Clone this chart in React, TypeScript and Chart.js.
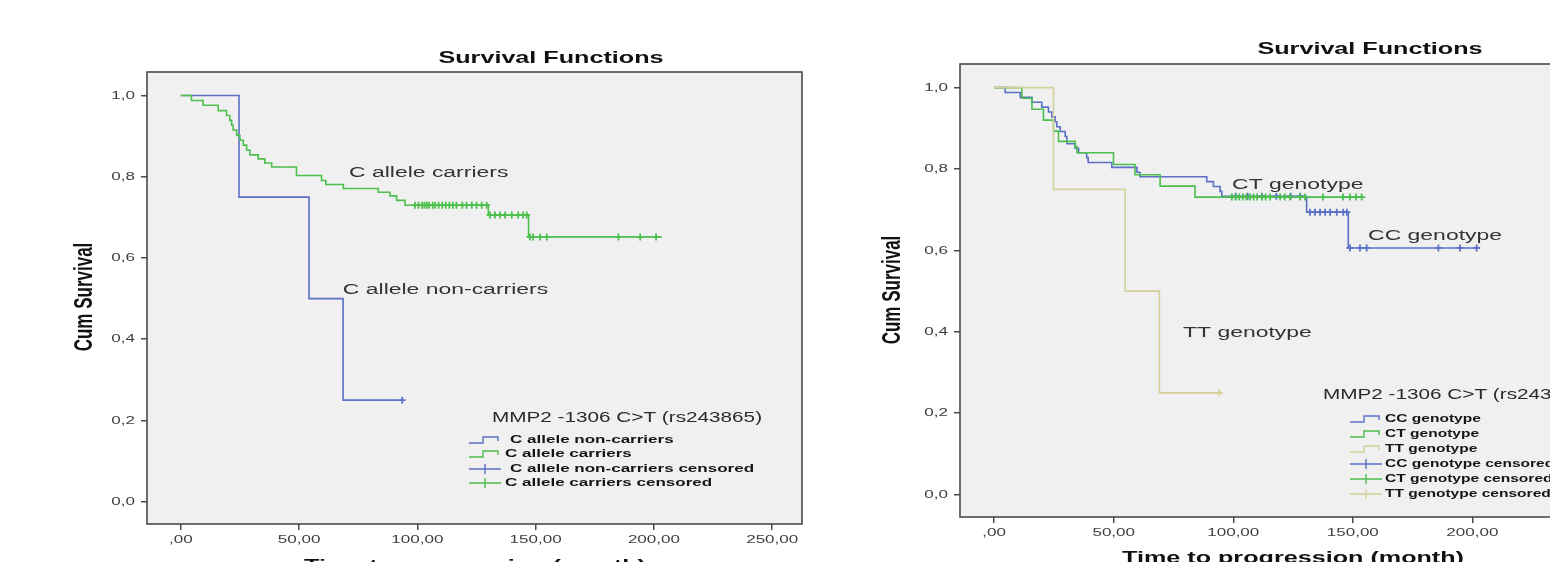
import React, { useEffect, useRef } from "react";
import { Chart, registerables } from "chart.js";
Chart.register(...registerables);

// ---------- shared axes ----------
const timeTicks = [0, 50, 100, 150, 200, 250];
const timeTickLabels = [",00", "50,00", "100,00", "150,00", "200,00", "250,00"];
const survTicks = [0, 0.2, 0.4, 0.6, 0.8, 1.0];
const survTickLabels = ["0,0", "0,2", "0,4", "0,6", "0,8", "1,0"];

// ---------- left panel: carriers vs non-carriers ----------
const nonCarrierTimes = [0, 24.6, 54.2, 68.6, 93.6];
const nonCarrierSurv = [1, 0.75, 0.5, 0.25, 0.25];
const nonCarrierCensored = [93.6];

const carrierTimes = [0, 4.5, 9.4, 15.8, 19.3, 20.7, 21.5, 22.1, 23.6, 25.0, 26.4, 27.8, 29.2, 32.7, 35.5, 38.4, 48.9, 59.5, 61.3, 68.7, 83.5, 88.4, 91.2, 94.8, 130.0, 147.0, 203.3];
const carrierSurv = [1, 0.988, 0.976, 0.963, 0.951, 0.939, 0.927, 0.915, 0.902, 0.89, 0.878, 0.866, 0.854, 0.844, 0.834, 0.824, 0.803, 0.791, 0.781, 0.771, 0.762, 0.753, 0.742, 0.73, 0.706, 0.652, 0.652];
const carrierCensored = [99, 100.5, 102, 103, 104, 105, 106.5, 107.5, 109, 110.5, 112, 113.5, 115, 116.5, 119, 120.8, 123, 125, 127.2, 129.3, 130.7, 132.8, 134.9, 137.1, 139.9, 142.6, 144.7, 146.2, 147.6, 148.9, 151.9, 154.7, 185, 194.2, 200.9];

// ---------- right panel: genotypes ----------
const ccTimes = [0, 4.6, 10.9, 15.8, 19.9, 22.7, 24.1, 25.5, 26.2, 27.6, 29.7, 30.4, 33.9, 35.3, 38.7, 39.3, 49.2, 59.7, 61.0, 88.9, 91.7, 94.5, 95.2, 130.7, 148.1, 203.2];
const ccSurv = [1, 0.988, 0.976, 0.964, 0.952, 0.94, 0.928, 0.916, 0.904, 0.892, 0.88, 0.862, 0.851, 0.84, 0.828, 0.816, 0.804, 0.792, 0.781, 0.769, 0.757, 0.745, 0.733, 0.694, 0.606, 0.606];
const ccCensored = [101, 106, 112, 118, 124, 128, 132.1, 134.2, 136.3, 138.4, 140.5, 143.3, 146, 147.5, 148.8, 153, 155.8, 185.8, 194.8, 201.8];

const ctTimes = [0, 11.6, 15.8, 20.6, 24.8, 26.9, 33.9, 34.6, 49.9, 58.9, 69.4, 84.0, 154.4];
const ctSurv = [1, 0.974, 0.947, 0.92, 0.893, 0.868, 0.855, 0.84, 0.811, 0.786, 0.758, 0.731, 0.731];
const ctCensored = [99.4, 101, 102.5, 104, 105.5, 107, 108.5, 110, 112, 113.5, 115.4, 119.6, 121.5, 123.7, 127.9, 130, 137.5, 145.9, 148.8, 151.3, 153.7];

const ttTimes = [0, 24.8, 54.8, 69.1, 94.2];
const ttSurv = [1, 0.75, 0.5, 0.25, 0.25];
const ttCensored = [94.2];

// ---------- style ----------
const BLUE = "#5b70c6";
const GREEN = "#4cbf4c";
const TAN = "#d4d09a";
const FONT = "'Liberation Sans', Arial, sans-serif";
const SX = 1.48; // source image text is horizontally stretched

function steps(times: number[], surv: number[]) {
  return times.map((t, i) => ({ x: t, y: surv[i] }));
}
function survAt(times: number[], surv: number[], t: number) {
  let v = surv[0];
  for (let i = 0; i < times.length; i++) if (times[i] <= t) v = surv[i];
  return v;
}
function censorPts(times: number[], surv: number[], cens: number[]) {
  return cens.map((t) => ({ x: t, y: survAt(times, surv, t) }));
}

function sText(ctx: CanvasRenderingContext2D, text: string, x: number, y: number, font: string, color: string, align = "left", baseline: CanvasTextBaseline = "middle") {
  ctx.save();
  ctx.font = font;
  ctx.fillStyle = color;
  ctx.textBaseline = baseline;
  ctx.textAlign = "left";
  const w = ctx.measureText(text).width * SX;
  let x0 = x;
  if (align === "center") x0 = x - w / 2;
  else if (align === "right") x0 = x - w;
  ctx.translate(x0, y);
  ctx.scale(SX, 1);
  ctx.fillText(text, 0, 0);
  ctx.restore();
}

function vText(ctx: CanvasRenderingContext2D, text: string, x: number, y: number, font: string, color: string) {
  ctx.save();
  ctx.font = font;
  ctx.fillStyle = color;
  ctx.textBaseline = "middle";
  ctx.textAlign = "center";
  ctx.translate(x, y);
  ctx.scale(SX, 1);
  ctx.rotate(-Math.PI / 2);
  ctx.fillText(text, 0, 0);
  ctx.restore();
}

function stepGlyph(ctx: CanvasRenderingContext2D, x: number, y: number, color: string) {
  ctx.save();
  ctx.strokeStyle = color;
  ctx.lineWidth = 1.4;
  ctx.beginPath();
  ctx.moveTo(x, y + 3);
  ctx.lineTo(x + 14, y + 3);
  ctx.lineTo(x + 14, y - 3);
  ctx.lineTo(x + 29, y - 3);
  ctx.lineTo(x + 29, y + 1);
  ctx.stroke();
  ctx.restore();
}
function crossGlyph(ctx: CanvasRenderingContext2D, x: number, y: number, color: string) {
  ctx.save();
  ctx.strokeStyle = color;
  ctx.lineWidth = 1.4;
  ctx.beginPath();
  ctx.moveTo(x, y);
  ctx.lineTo(x + 32, y);
  ctx.moveTo(x + 16, y - 5);
  ctx.lineTo(x + 16, y + 5);
  ctx.stroke();
  ctx.restore();
}

function Panel({ cfg }: { cfg: any }) {
  const ref = useRef<HTMLCanvasElement | null>(null);
  useEffect(() => {
    if (!ref.current) return;
    const decor = {
      id: "spssDecor",
      beforeDatasetsDraw(chart: any) {
        const { ctx, chartArea: a } = chart;
        ctx.save();
        ctx.fillStyle = "#f0f0f0";
        ctx.fillRect(a.left, a.top, a.right - a.left, a.bottom - a.top);
        ctx.restore();
      },
      afterDraw(chart: any) {
        const { ctx, chartArea: a } = chart;
        const xs = chart.scales.x;
        const ys = chart.scales.y;
        ctx.save();
        ctx.strokeStyle = "#4a4a4a";
        ctx.lineWidth = 1.6;
        ctx.strokeRect(a.left, a.top, a.right - a.left, a.bottom - a.top);
        ctx.restore();
        const tickFont = `11.5px ${FONT}`;
        survTicks.forEach((v, i) => sText(ctx, survTickLabels[i], a.left - 12, ys.getPixelForValue(v), tickFont, "#404040", "right"));
        timeTicks.forEach((v, i) => sText(ctx, timeTickLabels[i], xs.getPixelForValue(v), a.bottom + 16, tickFont, "#404040", "center"));
        sText(ctx, "Survival Functions", cfg.title.x, cfg.title.y, `bold 17px ${FONT}`, "#111", "center");
        sText(ctx, "Time to progression (month)", cfg.xTitle.x, cfg.xTitle.y, `bold 17px ${FONT}`, "#111", "center");
        vText(ctx, "Cum Survival", cfg.yTitle.x, cfg.yTitle.y, `bold 17px ${FONT}`, "#111");
        cfg.labels.forEach((l: any) => sText(ctx, l.text, xs.getPixelForValue(l.t), ys.getPixelForValue(l.v), `15.5px ${FONT}`, "#333"));
        sText(ctx, cfg.legendTitle.text, cfg.legendTitle.x, cfg.legendTitle.y, `14px ${FONT}`, "#2a2a2a");
        cfg.legendItems.forEach((it: any) => {
          if (it.kind === "step") stepGlyph(ctx, it.tx, it.y, it.color);
          else crossGlyph(ctx, it.tx, it.y, it.color);
          sText(ctx, it.text, it.textX, it.y, cfg.legendFont, "#151515");
        });
      },
    };
    const datasets: any[] = [];
    cfg.lines.forEach((ln: any) => {
      datasets.push({
        label: ln.label,
        data: steps(ln.times, ln.surv),
        stepped: true,
        borderColor: ln.color,
        borderWidth: 1.6,
        pointRadius: 0,
        fill: false,
        order: ln.order,
      });
      datasets.push({
        label: ln.label + " censored",
        data: censorPts(ln.times, ln.surv, ln.cens),
        showLine: false,
        pointStyle: "cross",
        pointRadius: 3.5,
        borderColor: ln.color,
        backgroundColor: ln.color,
        borderWidth: 1.8,
        order: ln.order - 0.5,
      });
    });
    const chart = new Chart(ref.current, {
      type: "line",
      data: { datasets },
      plugins: [decor],
      options: {
        animation: false,
        responsive: false,
        maintainAspectRatio: false,
        events: [],
        layout: { padding: { left: 0, top: cfg.padTop, right: cfg.padRight, bottom: 0 } },
        plugins: { legend: { display: false }, tooltip: { enabled: false }, title: { display: false } },
        scales: {
          x: {
            type: "linear",
            min: -14.3,
            max: 262.6,
            afterBuildTicks: (s: any) => {
              s.ticks = timeTicks.map((v) => ({ value: v }));
            },
            afterFit: (s: any) => {
              s.height = cfg.xAxisHeight;
            },
            ticks: { display: false },
            grid: { drawOnChartArea: false, drawTicks: true, tickLength: 6, color: "#4a4a4a", lineWidth: 1.5 },
            border: { display: false },
          },
          y: {
            type: "linear",
            min: -0.055,
            max: 1.058,
            afterBuildTicks: (s: any) => {
              s.ticks = survTicks.map((v) => ({ value: v }));
            },
            afterFit: (s: any) => {
              s.width = cfg.yAxisWidth;
            },
            ticks: { display: false },
            grid: { drawOnChartArea: false, drawTicks: true, tickLength: 6, color: "#4a4a4a", lineWidth: 1.5 },
            border: { display: false },
          },
        },
      } as any,
    });
    return () => chart.destroy();
  }, [cfg]);
  return (
    <canvas
      ref={ref}
      width={cfg.width}
      height={562}
      style={{ position: "absolute", left: cfg.left, top: 0, width: cfg.width, height: 562 }}
    />
  );
}

const leftCfg: any = {
  width: 830,
  left: 0,
  yAxisWidth: 147,
  padTop: 72,
  padRight: 28,
  xAxisHeight: 38,
  title: { x: 551, y: 58 },
  xTitle: { x: 475, y: 566 },
  yTitle: { x: 85, y: 297 },
  labels: [
    { text: "C allele carriers", t: 71.1, v: 0.811 },
    { text: "C allele non-carriers", t: 68.5, v: 0.521 },
  ],
  legendTitle: { text: "MMP2 -1306 C>T (rs243865)", x: 492, y: 418 },
  legendFont: `bold 11.5px ${FONT}`,
  legendItems: [
    { kind: "step", color: BLUE, text: "C allele non-carriers", y: 440, tx: 469, textX: 510 },
    { kind: "step", color: GREEN, text: "C allele carriers", y: 454, tx: 469, textX: 505 },
    { kind: "cross", color: BLUE, text: "C allele non-carriers censored", y: 469, tx: 469, textX: 510 },
    { kind: "cross", color: GREEN, text: "C allele carriers censored", y: 483, tx: 469, textX: 505 },
  ],
  lines: [
    { label: "C allele non-carriers", times: nonCarrierTimes, surv: nonCarrierSurv, cens: nonCarrierCensored, color: BLUE, order: 4 },
    { label: "C allele carriers", times: carrierTimes, surv: carrierSurv, cens: carrierCensored, color: GREEN, order: 2 },
  ],
};

const RX = 830;
const rightCfg: any = {
  width: 820,
  left: RX,
  yAxisWidth: 960 - RX,
  padTop: 64,
  padRight: 28,
  xAxisHeight: 45,
  title: { x: 1370 - RX, y: 49 },
  xTitle: { x: 1293 - RX, y: 558 },
  yTitle: { x: 893 - RX, y: 290 },
  labels: [
    { text: "CT genotype", t: 99.5, v: 0.762 },
    { text: "CC genotype", t: 156.4, v: 0.636 },
    { text: "TT genotype", t: 79, v: 0.398 },
  ],
  legendTitle: { text: "MMP2 -1306 C>T (rs243865)", x: 1323 - RX, y: 395 },
  legendFont: `bold 10.5px ${FONT}`,
  legendItems: [
    { kind: "step", color: BLUE, text: "CC genotype", y: 419, tx: 1350 - RX, textX: 1385 - RX },
    { kind: "step", color: GREEN, text: "CT genotype", y: 434, tx: 1350 - RX, textX: 1385 - RX },
    { kind: "step", color: TAN, text: "TT genotype", y: 449, tx: 1350 - RX, textX: 1385 - RX },
    { kind: "cross", color: BLUE, text: "CC genotype censored", y: 464, tx: 1350 - RX, textX: 1385 - RX },
    { kind: "cross", color: GREEN, text: "CT genotype censored", y: 479, tx: 1350 - RX, textX: 1385 - RX },
    { kind: "cross", color: TAN, text: "TT genotype censored", y: 494, tx: 1350 - RX, textX: 1385 - RX },
  ],
  lines: [
    { label: "CC genotype", times: ccTimes, surv: ccSurv, cens: ccCensored, color: BLUE, order: 6 },
    { label: "CT genotype", times: ctTimes, surv: ctSurv, cens: ctCensored, color: GREEN, order: 4 },
    { label: "TT genotype", times: ttTimes, surv: ttSurv, cens: ttCensored, color: TAN, order: 2 },
  ],
};

export default function App() {
  return (
    <div style={{ position: "fixed", left: 0, top: 0, width: 1550, height: 562, overflow: "hidden", background: "#fff" }}>
      <Panel cfg={leftCfg} />
      <Panel cfg={rightCfg} />
    </div>
  );
}
